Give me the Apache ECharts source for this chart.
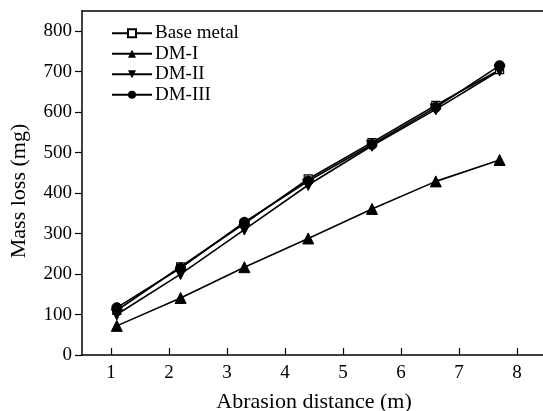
<!DOCTYPE html>
<html>
<head>
<meta charset="utf-8">
<script src="https://cdn.jsdelivr.net/npm/echarts@6/dist/echarts.min.js"></script>
<style>
  html, body { margin: 0; padding: 0; background: #fff; }
  #chart { width: 543px; height: 411px; }
</style>
</head>
<body>
<div id="chart"></div>
<script>
  // abrasion distance (m)
  const distance = [1.1, 2.2, 3.3, 4.4, 5.5, 6.6, 7.7]
  // mass loss (mg)
  const baseMetal = [110, 218, 325, 435, 525, 617, 705]
  const dm1 = [72, 141, 217, 288, 361, 429, 482]
  const dm2 = [100, 200, 310, 420, 517, 607, 703]
  const dm3 = [117, 215, 328, 430, 520, 612, 715]
  const xTicks = [1, 2, 3, 4, 5, 6, 7, 8]

  const font = 'Liberation Serif'
  const pairs = arr => distance.map((d, i) => [d, arr[i]])

  const lineSeries = (name, data, symbol, size, extra) => Object.assign({
    name: name,
    type: 'line',
    data: pairs(data),
    symbol: symbol,
    symbolSize: size,
    showSymbol: true,
    lineStyle: { color: '#000', width: 1.6 },
    itemStyle: { color: '#000', borderColor: '#000' }
  }, extra || {})

  const chart = echarts.init(document.getElementById('chart'))
  chart.setOption({
    animation: false,
    textStyle: { fontFamily: font, color: '#000' },
    grid: {
      left: 82,
      top: 11,
      right: -3,
      bottom: 56,
      outerBoundsMode: 'none',
      containLabel: false
    },
    legend: {
      orient: 'vertical',
      left: 106,
      top: 18,
      itemWidth: 40,
      itemHeight: 10,
      itemGap: 0,
      textStyle: { fontFamily: font, fontSize: 19, color: '#000', lineHeight: 20.5, padding: [0, 0, 0, -2] },
      data: ['Base metal', 'DM-I', 'DM-II', 'DM-III']
    },
    xAxis: [{
      type: 'value',
      min: 0.5,
      max: 8.5,
      name: 'Abrasion distance (m)',
      nameLocation: 'middle',
      nameGap: 36,
      nameTextStyle: { fontFamily: font, fontSize: 22, color: '#000' },
      splitLine: { show: false },
      axisLine: { lineStyle: { color: '#000', width: 1.5 } },
      axisTick: { inside: true, length: 7, customValues: xTicks, lineStyle: { color: '#000', width: 1.2 } },
      axisLabel: { customValues: xTicks, fontFamily: font, fontSize: 19, color: '#000', margin: 9 }
    }, {
      // top frame line only
      type: 'value',
      position: 'top',
      min: 0.5,
      max: 8.5,
      splitLine: { show: false },
      axisLine: { lineStyle: { color: '#000', width: 1.5 } },
      axisTick: { show: false },
      axisLabel: { show: false }
    }],
    yAxis: {
      type: 'value',
      min: 0,
      max: 850,
      interval: 100,
      name: 'Mass loss (mg)',
      nameLocation: 'middle',
      nameGap: 52,
      nameTextStyle: { fontFamily: font, fontSize: 22, color: '#000', padding: [0, 0, 0, -16] },
      splitLine: { show: false },
      axisLine: { lineStyle: { color: '#000', width: 1.5 } },
      axisTick: { length: 7, lineStyle: { color: '#000', width: 1.2 } },
      axisLabel: { showMaxLabel: false, fontFamily: font, fontSize: 19, color: '#000', margin: 10 }
    },
    series: [
      lineSeries('Base metal', baseMetal, 'rect', 8, {
        itemStyle: { color: '#fff', borderColor: '#000', borderWidth: 1.2 }
      }),
      lineSeries('DM-I', dm1, 'triangle', 11),
      lineSeries('DM-II', dm2, 'triangle', 11, { symbolRotate: 180 }),
      lineSeries('DM-III', dm3, 'circle', 10)
    ]
  })
</script>
</body>
</html>
